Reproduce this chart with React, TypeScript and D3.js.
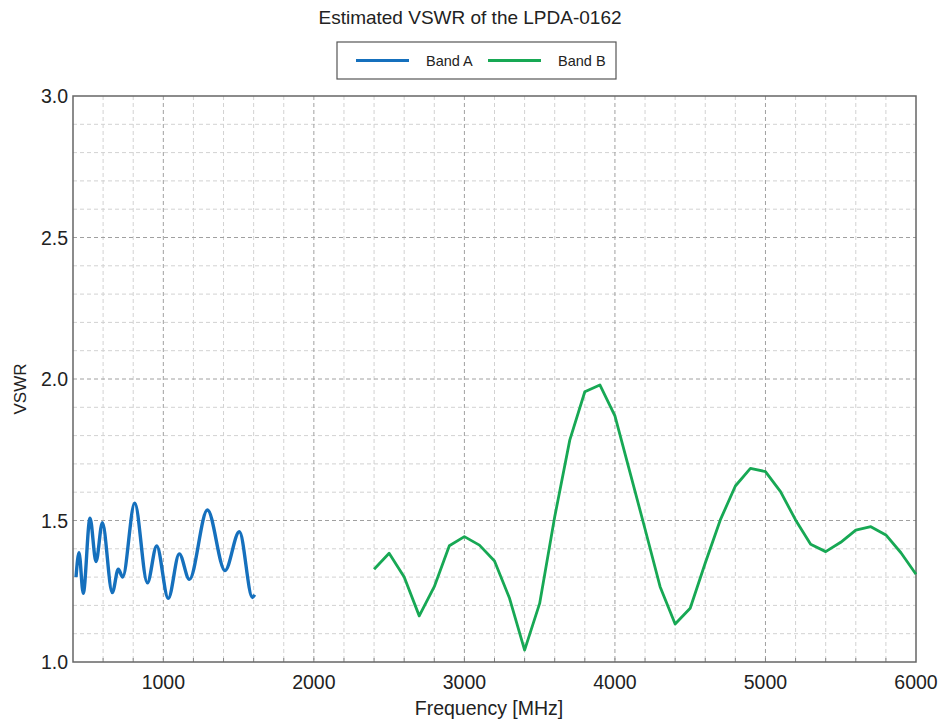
import React, { useEffect, useRef } from "react";
import * as d3 from "d3";

// Band A: measured VSWR (smooth curve), frequency in MHz
const bandAFreq = [420, 440, 468, 513, 553, 595, 661, 701, 730, 810, 894, 956, 1033, 1106, 1173, 1293, 1410, 1505, 1592, 1606];
const bandAVswr = [1.3, 1.386, 1.243, 1.508, 1.355, 1.492, 1.245, 1.328, 1.3, 1.561, 1.28, 1.41, 1.225, 1.382, 1.292, 1.537, 1.323, 1.46, 1.228, 1.238];

// Band B: sampled every 100 MHz
const bandBFreq = [2400, 2500, 2600, 2700, 2800, 2900, 3000, 3100, 3200, 3300, 3400, 3500, 3600, 3700, 3800, 3900, 4000, 4100, 4200, 4300, 4400, 4500, 4600, 4700, 4800, 4900, 5000, 5100, 5200, 5300, 5400, 5500, 5600, 5700, 5800, 5900, 6000];
const bandBVswr = [1.328, 1.384, 1.3, 1.163, 1.266, 1.411, 1.443, 1.413, 1.357, 1.225, 1.042, 1.207, 1.513, 1.784, 1.955, 1.979, 1.87, 1.67, 1.47, 1.266, 1.134, 1.19, 1.35, 1.502, 1.622, 1.684, 1.673, 1.602, 1.502, 1.416, 1.39, 1.423, 1.466, 1.478, 1.449, 1.386, 1.31];

const xTicks = [1000, 2000, 3000, 4000, 5000, 6000];
const yTicks = [1.0, 1.5, 2.0, 2.5, 3.0];
const seriesNames = ["Band A", "Band B"];
const seriesColors = ["#1570bd", "#17a854"];

const W = 941;
const H = 724;

const App = () => {
  const svgRef = useRef<SVGSVGElement | null>(null);

  useEffect(() => {
    const margin = { top: 96, right: 25, bottom: 62, left: 73 };
    const innerW = W - margin.left - margin.right;
    const innerH = H - margin.top - margin.bottom;

    const svg = d3.select(svgRef.current);
    svg.selectAll("*").remove();

    const font = "'Liberation Sans', Arial, sans-serif";

    const x = d3.scaleLinear().domain([400, 6000]).range([0, innerW]);
    const y = d3.scaleLinear().domain([1, 3]).range([innerH, 0]);

    const g = svg.append("g").attr("transform", `translate(${margin.left},${margin.top})`);

    // minor grid
    const minorX = d3.range(600, 6000, 200).filter((v) => v % 1000 !== 0);
    const minorY = d3.range(1.1, 3, 0.1).filter((v) => Math.abs(v * 2 - Math.round(v * 2)) > 1e-6);

    g.selectAll(".gx")
      .data(minorX)
      .join("line")
      .attr("x1", (d) => x(d))
      .attr("x2", (d) => x(d))
      .attr("y1", 0)
      .attr("y2", innerH)
      .attr("stroke", "#d2d2d2")
      .attr("stroke-dasharray", "4,3");

    g.selectAll(".gy")
      .data(minorY)
      .join("line")
      .attr("x1", 0)
      .attr("x2", innerW)
      .attr("y1", (d) => y(d))
      .attr("y2", (d) => y(d))
      .attr("stroke", "#d2d2d2")
      .attr("stroke-dasharray", "4,3");

    // major grid
    g.selectAll(".mx")
      .data(xTicks.filter((d) => d < 6000))
      .join("line")
      .attr("x1", (d) => x(d))
      .attr("x2", (d) => x(d))
      .attr("y1", 0)
      .attr("y2", innerH)
      .attr("stroke", "#a0a0a0")
      .attr("stroke-dasharray", "4,3");

    g.selectAll(".my")
      .data(yTicks.filter((d) => d > 1 && d < 3))
      .join("line")
      .attr("x1", 0)
      .attr("x2", innerW)
      .attr("y1", (d) => y(d))
      .attr("y2", (d) => y(d))
      .attr("stroke", "#a0a0a0")
      .attr("stroke-dasharray", "4,3");

    // small inward ticks on bottom axis
    g.selectAll(".tb")
      .data(d3.range(600, 6000, 200))
      .join("line")
      .attr("x1", (d) => x(d))
      .attr("x2", (d) => x(d))
      .attr("y1", innerH)
      .attr("y2", innerH - 4)
      .attr("stroke", "#888");

    // frame
    g.append("rect")
      .attr("width", innerW)
      .attr("height", innerH)
      .attr("fill", "none")
      .attr("stroke", "#666")
      .attr("stroke-width", 1.5);

    // lines
    const lineA = d3
      .line<number>()
      .x((d, i) => x(bandAFreq[i]))
      .y((d) => y(d))
      .curve(d3.curveMonotoneX);

    const lineB = d3
      .line<number>()
      .x((d, i) => x(bandBFreq[i]))
      .y((d) => y(d));

    g.append("path")
      .attr("d", lineA(bandAVswr))
      .attr("fill", "none")
      .attr("stroke", seriesColors[0])
      .attr("stroke-width", 3.4)
      .attr("stroke-linejoin", "round");

    g.append("path")
      .attr("d", lineB(bandBVswr))
      .attr("fill", "none")
      .attr("stroke", seriesColors[1])
      .attr("stroke-width", 2.8)
      .attr("stroke-linejoin", "round");

    // tick labels
    g.selectAll(".xl")
      .data(xTicks)
      .join("text")
      .attr("x", (d) => x(d))
      .attr("y", innerH + 27)
      .attr("text-anchor", "middle")
      .attr("font-family", font)
      .attr("font-size", 19.5)
      .attr("fill", "#222")
      .text((d) => d);

    g.selectAll(".yl")
      .data(yTicks)
      .join("text")
      .attr("x", -5)
      .attr("y", (d) => y(d) + 7)
      .attr("text-anchor", "end")
      .attr("font-family", font)
      .attr("font-size", 19.5)
      .attr("fill", "#222")
      .text((d) => d.toFixed(1));

    // axis titles
    svg.append("text")
      .attr("x", 489)
      .attr("y", 715)
      .attr("text-anchor", "middle")
      .attr("font-family", font)
      .attr("font-size", 19.5)
      .attr("fill", "#222")
      .text("Frequency [MHz]");

    svg.append("text")
      .attr("transform", `translate(26,389) rotate(-90)`)
      .attr("text-anchor", "middle")
      .attr("font-family", font)
      .attr("font-size", 17)
      .attr("fill", "#222")
      .text("VSWR");

    // title
    svg.append("text")
      .attr("x", 470)
      .attr("y", 24)
      .attr("text-anchor", "middle")
      .attr("font-family", font)
      .attr("font-size", 19)
      .attr("fill", "#222")
      .text("Estimated VSWR of the LPDA-0162");

    // legend
    const lg = svg.append("g").attr("transform", "translate(337,42)");
    lg.append("rect")
      .attr("width", 279)
      .attr("height", 37)
      .attr("fill", "#fff")
      .attr("stroke", "#555")
      .attr("stroke-width", 1.2);
    const items = lg.selectAll(".li").data(seriesNames).join("g")
      .attr("transform", (d, i) => `translate(${19 + i * 132},0)`);
    items.append("line")
      .attr("x1", 0)
      .attr("x2", 53)
      .attr("y1", 18.5)
      .attr("y2", 18.5)
      .attr("stroke", (d, i) => seriesColors[i])
      .attr("stroke-width", 3);
    items.append("text")
      .attr("x", 70)
      .attr("y", 24)
      .attr("font-family", font)
      .attr("font-size", 14.5)
      .attr("fill", "#222")
      .text((d) => d);
  }, []);

  return (
    <svg
      ref={svgRef}
      width={W}
      height={H}
      style={{ position: "absolute", left: 0, top: 0, background: "#fff" }}
    />
  );
};

export default App;
